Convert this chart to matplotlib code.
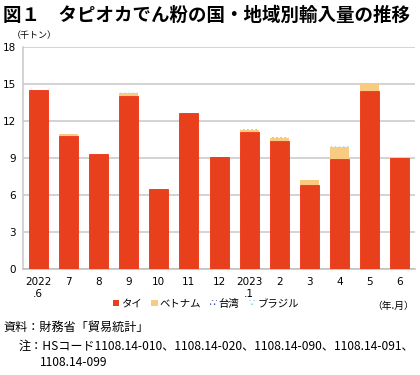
import numpy as np
import matplotlib
matplotlib.use("Agg")
import matplotlib.pyplot as plt
from matplotlib.patches import Patch

plt.rcParams['font.family'] = ['Noto Sans CJK JP', 'DejaVu Sans']
plt.rcParams['hatch.linewidth'] = 0.6

# data (thousand tonnes)
months = ['2022\n.6', '7', '8', '9', '10', '11', '12', '2023\n.1', '2', '3', '4', '5', '6']
thai = [14.5, 10.8, 9.3, 14.05, 6.5, 12.6, 9.05, 11.1, 10.4, 6.8, 8.9, 14.45, 8.95]
vietnam = [0.0, 0.1, 0.0, 0.25, 0.0, 0.0, 0.0, 0.2, 0.25, 0.4, 1.0, 0.6, 0.0]
taiwan = [0.0, 0.0, 0.0, 0.0, 0.0, 0.0, 0.0, 0.0, 0.0, 0.0, 0.0, 0.0, 0.0]
brazil = [0.0, 0.03, 0.0, 0.03, 0.0, 0.0, 0.0, 0.03, 0.03, 0.03, 0.03, 0.03, 0.0]

THAI_COLOR = '#E8401C'
VIET_COLOR = '#F8CB80'
TAIWAN_COLOR = '#4F5FB8'
BRAZIL_COLOR = '#7FD3E0'

fig = plt.figure(figsize=(4.2, 3.75), dpi=100)
ax = fig.add_axes([0.055, 0.283, 0.933, 0.592])

x = np.arange(len(months))
w = 0.63
bottom = np.zeros(len(months))
ax.bar(x, thai, w, bottom=bottom, color=THAI_COLOR, edgecolor='#F03010', linewidth=0.6, zorder=3)
bottom += np.array(thai)
ax.bar(x, vietnam, w, bottom=bottom, color=VIET_COLOR, linewidth=0, zorder=3)
bottom += np.array(vietnam)
ax.bar(x, taiwan, w, bottom=bottom, color='white', edgecolor=TAIWAN_COLOR, hatch='....', linewidth=0, zorder=3)
bottom += np.array(taiwan)
ax.bar(x, brazil, w, bottom=bottom, color='white', edgecolor=BRAZIL_COLOR, hatch='....', linewidth=0, zorder=3)

ax.set_ylim(0, 18)
ax.set_xlim(-0.5, len(months) - 0.5)
ax.set_yticks(np.arange(0, 19, 3))
ax.yaxis.grid(True, color='#C8C8C8', linewidth=1.1, zorder=0)
ax.set_xticks(x)
ax.set_xticklabels(months, fontsize=7.5, family=['DejaVu Sans'])
ax.tick_params(axis='y', length=0, labelsize=7.5, pad=5)
ax.tick_params(axis='x', length=0, pad=6)
for lab in ax.get_yticklabels():
    lab.set_family(['DejaVu Sans'])
for s in ['top', 'right']:
    ax.spines[s].set_visible(False)
ax.spines['left'].set_color('#C8C8C8')
ax.spines['bottom'].set_color('#BFBFBF')
ax.spines['left'].set_linewidth(1.1)
ax.spines['bottom'].set_linewidth(1.1)

fig.text(0.008, 0.985, '図１　タピオカでん粉の国・地域別輸入量の推移', fontsize=13.3,
         fontweight='bold', va='top', ha='left')
fig.text(0.028, 0.893, '（千トン）', fontsize=6.5, va='bottom', ha='left')
fig.text(0.985, 0.183, '（年.月）', fontsize=7, va='center', ha='right')

handles = [Patch(facecolor=THAI_COLOR, label='タイ'),
           Patch(facecolor=VIET_COLOR, label='ベトナム'),
           Patch(facecolor='white', edgecolor=TAIWAN_COLOR, hatch='....', linewidth=0, label='台湾'),
           Patch(facecolor='white', edgecolor=BRAZIL_COLOR, hatch='....', linewidth=0, label='ブラジル')]
fig.legend(handles=handles, loc='center', bbox_to_anchor=(0.49, 0.19), ncol=4, frameon=False,
           fontsize=7.5, handlelength=0.6, handleheight=0.6, handletextpad=0.2, columnspacing=0.9)

fig.text(0.008, 0.128, '資料：財務省「貿易統計」', fontsize=8.7, va='center', ha='left')
fig.text(0.045, 0.077, '注：HSコード1108.14-010、1108.14-020、1108.14-090、1108.14-091、',
         fontsize=8.7, va='center', ha='left')
fig.text(0.095, 0.032, '1108.14-099', fontsize=8.7, va='center', ha='left')

fig.savefig('out.png', dpi=100)
